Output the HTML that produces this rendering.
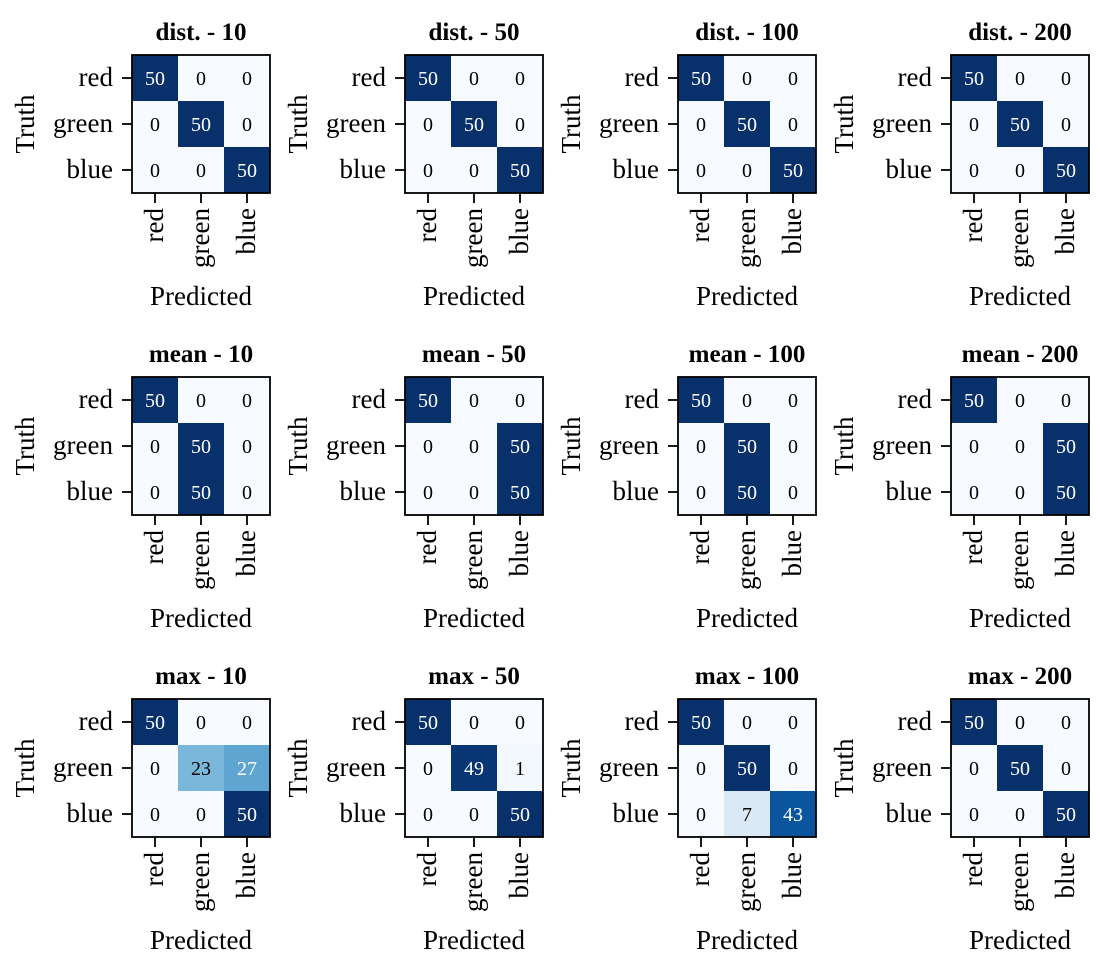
<!DOCTYPE html>
<html><head><meta charset="utf-8"><style>
body{margin:0;background:#fff;}
svg text{font-family:"Liberation Serif",serif;}
</style></head><body>
<svg id="chart" width="1100" height="960" viewBox="0 0 1100 960" xmlns="http://www.w3.org/2000/svg"></svg>
<script>
const methods = ["dist.", "mean", "max"];
const sizes = ["10", "50", "100", "200"];
const classLabels = ["red", "green", "blue"];
const matrices = [
  [[[50,0,0],[0,50,0],[0,0,50]], [[50,0,0],[0,50,0],[0,0,50]], [[50,0,0],[0,50,0],[0,0,50]], [[50,0,0],[0,50,0],[0,0,50]]],
  [[[50,0,0],[0,50,0],[0,50,0]], [[50,0,0],[0,0,50],[0,0,50]], [[50,0,0],[0,50,0],[0,50,0]], [[50,0,0],[0,0,50],[0,0,50]]],
  [[[50,0,0],[0,23,27],[0,0,50]], [[50,0,0],[0,49,1],[0,0,50]], [[50,0,0],[0,50,0],[0,7,43]], [[50,0,0],[0,50,0],[0,0,50]]]
];
const vmax = 50;

const blues = ["#f7fbff","#deebf7","#c6dbef","#9ecae1","#6baed6","#4292c6","#2171b5","#08519c","#08306b"];
function hex(c){return [1,3,5].map(i=>parseInt(c.substr(i,2),16));}
function cmap(t){
  t=Math.max(0,Math.min(1,t));
  const p=t*(blues.length-1), i=Math.min(Math.floor(p),blues.length-2), f=p-i;
  const a=hex(blues[i]), b=hex(blues[i+1]);
  return "rgb("+a.map((v,k)=>Math.round(v+(b[k]-v)*f)).join(",")+")";
}
const NS="http://www.w3.org/2000/svg";
const svg=document.getElementById("chart");
function mk(tag,attrs,parent){const e=document.createElementNS(NS,tag);for(const k in attrs)e.setAttribute(k,attrs[k]);(parent||svg).appendChild(e);return e;}

const lefts=[132,405,678,951], tops=[55,377,699], S=138, cs=S/3;
methods.forEach((m,r)=>{
  sizes.forEach((sz,c)=>{
    const x0=lefts[c], y0=tops[r], mat=matrices[r][c];
    const g=mk("g",{});
    
    
    const t=mk("text",{x:x0+S/2,y:y0-15,"text-anchor":"middle","font-size":"25","font-weight":"bold"},g);
    t.textContent=m+" - "+sz;
    
    
    for(let i=0;i<3;i++)for(let j=0;j<3;j++){
      const v=mat[i][j];
      const rc=mk("rect",{x:x0+j*cs,y:y0+i*cs,width:cs+0.5,height:cs+0.5,fill:cmap(v/vmax)},g);
      
      
      const tx=mk("text",{x:x0+j*cs+cs/2,y:y0+i*cs+cs/2+7,"text-anchor":"middle","font-size":"20",fill:v>vmax/2?"#fff":"#000"},g);
      tx.textContent=v;
      
      
    }
    const fr=mk("rect",{x:x0,y:y0,width:S,height:S,fill:"none",stroke:"#000","stroke-width":"1.8"},g);
    
    
    classLabels.forEach((lab,k)=>{
      const yc=y0+k*cs+cs/2, xc=x0+k*cs+cs/2;
      mk("line",{x1:x0-10,x2:x0,y1:yc,y2:yc,stroke:"#000","stroke-width":"1.8"},g);
      const yl=mk("text",{x:x0-19,y:yc+8,"text-anchor":"end","font-size":"27"},g);
      yl.textContent=lab;
      
      
      mk("line",{x1:xc,x2:xc,y1:y0+S,y2:y0+S+10,stroke:"#000","stroke-width":"1.8"},g);
      const xl=mk("text",{x:0,y:0,"text-anchor":"end","font-size":"27",transform:"translate("+(xc+8)+","+(y0+S+15)+") rotate(-90)"},g);
      xl.textContent=lab;
      
      
    });
    const xt=mk("text",{x:x0+S/2,y:y0+S+112,"text-anchor":"middle","font-size":"27"},g);
    xt.textContent="Predicted";
    
    
    const yt=mk("text",{x:0,y:0,"text-anchor":"middle","font-size":"27",transform:"translate("+(x0-98)+","+(y0+S/2)+") rotate(-90)"},g);
    yt.textContent="Truth";
    
    
  });
});
</script>
</body></html>
